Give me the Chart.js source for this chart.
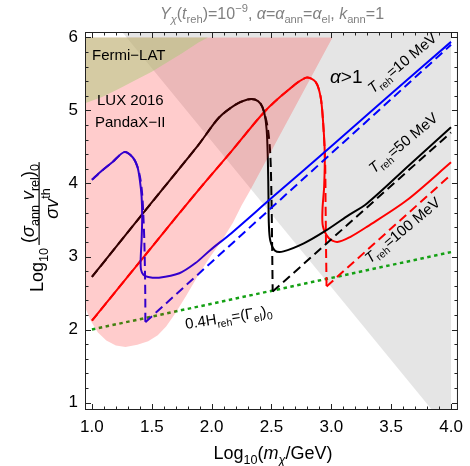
<!DOCTYPE html>
<html><head><meta charset="utf-8">
<script src="https://cdn.jsdelivr.net/npm/chart.js@4.4.0/dist/chart.umd.min.js"></script>
<style>html,body{margin:0;padding:0;background:#fff;}#wrap{width:470px;height:466px;}</style>
</head><body><div id="wrap"><canvas id="c" width="470" height="466"></canvas></div>
<script>
// ---- data ----
const xTicks = [1.0, 1.5, 2.0, 2.5, 3.0, 3.5, 4.0];
const yTicks = [1, 2, 3, 4, 5, 6];

// T_reh = 10 MeV (blue)
const blueSolidX = [1.0, 1.08, 1.17, 1.27, 1.34, 1.38, 1.40, 1.415, 1.42, 1.415, 1.407, 1.41, 1.43, 1.47, 1.56, 1.73, 1.865, 1.99, 2.165, 2.5, 3.0, 3.5, 4.0];
const blueSolidY = [4.05, 4.17, 4.29, 4.43, 4.36, 4.23, 4.05, 3.82, 3.54, 3.23, 2.95, 2.82, 2.75, 2.72, 2.71, 2.77, 2.91, 3.09, 3.32, 3.80, 4.51, 5.23, 5.94];
const blueDashX = [1.0, 1.08, 1.17, 1.27, 1.34, 1.38, 1.405, 1.42, 1.43, 1.438, 1.443, 1.446, 1.446];
const blueDashY = [4.05, 4.17, 4.29, 4.43, 4.36, 4.23, 4.06, 3.85, 3.55, 3.20, 2.80, 2.40, 2.10];
const blueDashLineX = [1.446, 4.0];
const blueDashLineY = [2.10, 5.90];

// T_reh = 50 MeV (black)
const blackSolidX = [1.0, 1.5, 1.89, 2.06, 2.2, 2.3, 2.36, 2.41, 2.44, 2.46, 2.47, 2.475, 2.478, 2.49, 2.53, 2.6, 2.77, 2.94, 3.13, 3.30, 3.65, 4.0];
const blackSolidY = [2.72, 3.74, 4.53, 4.90, 5.08, 5.15, 5.15, 5.09, 4.97, 4.73, 4.30, 3.80, 3.45, 3.22, 3.08, 3.07, 3.18, 3.34, 3.55, 3.73, 4.25, 4.77];
const blackDashX = [1.0, 1.5, 1.89, 2.06, 2.2, 2.3, 2.36, 2.41, 2.44, 2.47, 2.49, 2.50, 2.505, 2.51];
const blackDashY = [2.72, 3.74, 4.53, 4.90, 5.08, 5.15, 5.15, 5.09, 4.97, 4.75, 4.40, 3.80, 3.20, 2.52];
const blackDashLineX = [2.51, 4.0];
const blackDashLineY = [2.52, 4.70];

// T_reh = 100 MeV (red)
const redSolidX = [1.0, 1.5, 1.89, 2.165, 2.44, 2.64, 2.79, 2.87, 2.91, 2.93, 2.945, 2.94, 2.926, 2.93, 2.98, 3.05, 3.16, 3.30, 3.63, 4.0];
const redSolidY = [2.12, 3.13, 3.91, 4.44, 4.98, 5.28, 5.45, 5.39, 5.19, 4.87, 4.42, 3.96, 3.64, 3.41, 3.25, 3.20, 3.27, 3.41, 3.77, 4.29];
const redDashX = [1.0, 1.5, 1.89, 2.165, 2.44, 2.64, 2.79, 2.87, 2.91, 2.93, 2.948, 2.952, 2.956, 2.96];
const redDashY = [2.12, 3.13, 3.91, 4.44, 4.98, 5.28, 5.45, 5.39, 5.19, 4.87, 4.30, 3.70, 3.10, 2.59];
const redDashLineX = [2.96, 4.0];
const redDashLineY = [2.59, 4.12];

// 0.4 H_reh = (Gamma_el)_0 (green dotted)
const greenX = [1.0, 4.0];
const greenY = [2.0, 3.06];

// alpha > 1 region (gray)
const grayX = [1.19, 4.0, 4.0, 3.865];
const grayY = [6.2, 6.2, 0.85, 0.85];

// LUX 2016 / PandaX-II region (pink)
const pinkX = [0.90, 3.01, 2.32, 2.25, 2.18, 2.09, 1.99, 1.89, 1.79, 1.70, 1.62, 1.55, 1.47, 1.38, 1.28, 1.20, 1.12, 1.05, 0.99, 0.942, 0.90];
const pinkY = [6.0, 6.0, 3.90, 3.70, 3.47, 3.23, 3.00, 2.75, 2.47, 2.23, 2.04, 1.92, 1.84, 1.79, 1.76, 1.78, 1.85, 1.96, 2.12, 2.31, 2.45];

// Fermi-LAT region (tan)
const tanX = [0.90, 1.97, 1.89, 1.75, 1.64, 1.50, 1.37, 1.23, 1.09, 0.942, 0.90];
const tanY = [6.0, 6.0, 5.93, 5.78, 5.67, 5.53, 5.42, 5.30, 5.19, 5.10, 5.075];

// ---- helpers ----
const pts = (xs, ys) => xs.map((x, i) => ({x, y: ys[i]}));
const FONT = '"Liberation Sans", Arial, Helvetica, sans-serif';

function segW(ctx, segs, size) {
  let w = 0;
  for (const [t, f] of segs) {
    const small = f.includes('b') || f.includes('p');
    const fs = small ? size * 0.7 : size;
    ctx.font = (f.includes('i') ? 'italic ' : '') + fs + 'px ' + FONT;
    w += ctx.measureText(t).width;
  }
  return w;
}
function drawRich(ctx, segs, x, y, size, align) {
  const w = segW(ctx, segs, size);
  let cx = align === 'center' ? x - w / 2 : (align === 'right' ? x - w : x);
  ctx.textAlign = 'left';
  ctx.textBaseline = 'alphabetic';
  for (const [t, f] of segs) {
    const sub = f.includes('b'), sup = f.includes('p');
    const fs = (sub || sup) ? size * 0.7 : size;
    const dy = sub ? size * 0.25 : (sup ? -size * 0.42 : 0);
    ctx.font = (f.includes('i') ? 'italic ' : '') + fs + 'px ' + FONT;
    ctx.fillText(t, cx, y + dy);
    cx += ctx.measureText(t).width;
  }
  return w;
}

const line = (data, color, extra) => Object.assign({
  type: 'line', data, borderColor: color, borderWidth: 2, pointRadius: 0,
  fill: false, tension: 0.3, order: 50
}, extra);
const region = (data, color, order) => ({
  type: 'line', data, borderColor: 'rgba(0,0,0,0)', borderWidth: 0, pointRadius: 0,
  backgroundColor: color, fill: 'shape', tension: 0, order
});

const DASH = [9, 5];

const decor = {
  id: 'decor',
  afterDatasetsDraw(chart) {
    const ctx = chart.ctx;
    const a = chart.chartArea;
    const xs = chart.scales.x, ys = chart.scales.y;
    ctx.save();
    // frame
    ctx.strokeStyle = '#222';
    ctx.lineWidth = 1;
    ctx.strokeRect(a.left + 0.5, a.top + 0.5, a.right - a.left - 1, a.bottom - a.top - 1);
    // ticks
    ctx.beginPath();
    for (let i = 0; i <= 30; i++) {
      const v = 1 + i * 0.1;
      const px = Math.round(xs.getPixelForValue(v)) + 0.5;
      const L = (i % 5 === 0) ? 6 : 3.5;
      ctx.moveTo(px, a.bottom); ctx.lineTo(px, a.bottom - L);
      ctx.moveTo(px, a.top); ctx.lineTo(px, a.top + L);
    }
    for (let i = 0; i <= 25; i++) {
      const v = 1 + i * 0.2;
      const py = Math.round(ys.getPixelForValue(v)) + 0.5;
      const L = (i % 5 === 0) ? 6 : 3.5;
      ctx.moveTo(a.left, py); ctx.lineTo(a.left + L, py);
      ctx.moveTo(a.right, py); ctx.lineTo(a.right - L, py);
    }
    ctx.stroke();

    // title
    ctx.fillStyle = '#808080';
    drawRich(ctx, [['Y','i'],['χ','ib'],['(',''],['t','i'],['reh','b'],[')=10',''],['−9','p'],[', ',''],['α','i'],['=',''],['α','i'],['ann','b'],['=',''],['α','i'],['el','b'],[', ',''],['k','i'],['ann','b'],['=1','']], 272, 19, 16, 'center');

    ctx.fillStyle = '#000';
    // x label
    drawRich(ctx, [['Log',''],['10','b'],['(',''],['m','i'],['χ','ib'],['/GeV)','']], 273, 459, 18, 'center');

    // y label (rotated)
    ctx.save();
    ctx.translate(43, 292);
    ctx.rotate(-Math.PI / 2);
    const lw = drawRich(ctx, [['Log',''],['10','b']], 0, 0, 18, 'left');
    const num = [['(',''],['σ','i'],['ann','b'],[' ',''],['v','i'],['rel','b'],[')',''],['0','b']];
    const den = [['σv','i'],['th','p']];
    const nw = segW(ctx, num, 18), dw = segW(ctx, den, 18);
    const fw = Math.max(nw, dw) + 4;
    const fx = lw + 3;
    ctx.fillRect(fx, -4.5, fw, 1.2);
    drawRich(ctx, num, fx + fw / 2, -9, 18, 'center');
    drawRich(ctx, den, fx + fw / 2, 15, 18, 'center');
    ctx.restore();

    // region labels
    ctx.fillStyle = '#000';
    drawRich(ctx, [['Fermi−LAT','']], 92, 60, 15, 'left');
    drawRich(ctx, [['LUX 2016','']], 97, 105, 15, 'left');
    drawRich(ctx, [['PandaX−II','']], 95, 127, 15, 'left');
    drawRich(ctx, [['α','i'],['>1','']], 330, 83, 19, 'left');

    const rot = (segs, x, y, ang, size) => {
      ctx.save(); ctx.translate(x, y); ctx.rotate(ang * Math.PI / 180);
      drawRich(ctx, segs, 0, 0, size, 'left'); ctx.restore();
    };
    rot([['T','i'],['reh','b'],['=10 MeV','']], 373, 94, -40, 15);
    rot([['T','i'],['reh','b'],['=50 MeV','']], 374, 174, -40, 15);
    rot([['T','i'],['reh','b'],['=100 MeV','']], 370, 264, -40, 15);
    rot([['0.4H',''],['reh','b'],['=(Γ',''],['el','b'],[')',''],['0','b']], 186, 329, -9, 15);
    ctx.restore();
  }
};

new Chart(document.getElementById('c'), {
  data: {
    datasets: [
      region(pts(grayX, grayY), 'rgba(0,0,0,0.1)', 100),
      line(pts(greenX, greenY), 'rgb(20,160,20)', {borderWidth: 2.5, borderDash: [3.5, 3.5], tension: 0, order: 60}),
      line(pts(blueDashX, blueDashY), '#0000ff', {borderDash: DASH}),
      line(pts(blueDashLineX, blueDashLineY), '#0000ff', {borderDash: DASH, tension: 0}),
      line(pts(blueSolidX, blueSolidY), '#0000ff'),
      line(pts(blackDashX, blackDashY), '#000', {borderDash: DASH}),
      line(pts(blackDashLineX, blackDashLineY), '#000', {borderDash: DASH, tension: 0}),
      line(pts(blackSolidX, blackSolidY), '#000'),
      line(pts(redDashX, redDashY), '#ff0000', {borderDash: DASH}),
      line(pts(redDashLineX, redDashLineY), '#ff0000', {borderDash: DASH, tension: 0}),
      line(pts(redSolidX, redSolidY), '#ff0000'),
      region(pts(pinkX, pinkY), 'rgba(255,0,0,0.2)', 20),
      region(pts(tanX, tanY), 'rgba(171,202,122,0.5)', 10)
    ]
  },
  options: {
    responsive: false,
    animation: false,
    devicePixelRatio: 1,
    layout: {padding: {top: 32, right: 8, left: 0, bottom: 0}},
    plugins: {legend: {display: false}, tooltip: {enabled: false}, title: {display: false}},
    scales: {
      x: {
        type: 'linear', min: 0.9421, max: 4.0578,
        grid: {display: false, drawTicks: false}, border: {display: false},
        afterBuildTicks: (ax) => { ax.ticks = xTicks.map(v => ({value: v})); },
        afterFit: (ax) => { ax.height = 56; },
        ticks: {padding: 7, color: '#000', font: {family: FONT, size: 17}, maxRotation: 0, autoSkip: false,
          callback: (v) => Number(v).toFixed(1)}
      },
      y: {
        type: 'linear', min: 0.8973, max: 6.0753,
        grid: {display: false, drawTicks: false}, border: {display: false},
        afterBuildTicks: (ax) => { ax.ticks = yTicks.map(v => ({value: v})); },
        afterFit: (ax) => { ax.width = 85; },
        ticks: {padding: 7, color: '#000', font: {family: FONT, size: 17}, autoSkip: false,
          callback: (v) => String(v)}
      }
    }
  },
  plugins: [decor]
});
</script>
</body></html>
